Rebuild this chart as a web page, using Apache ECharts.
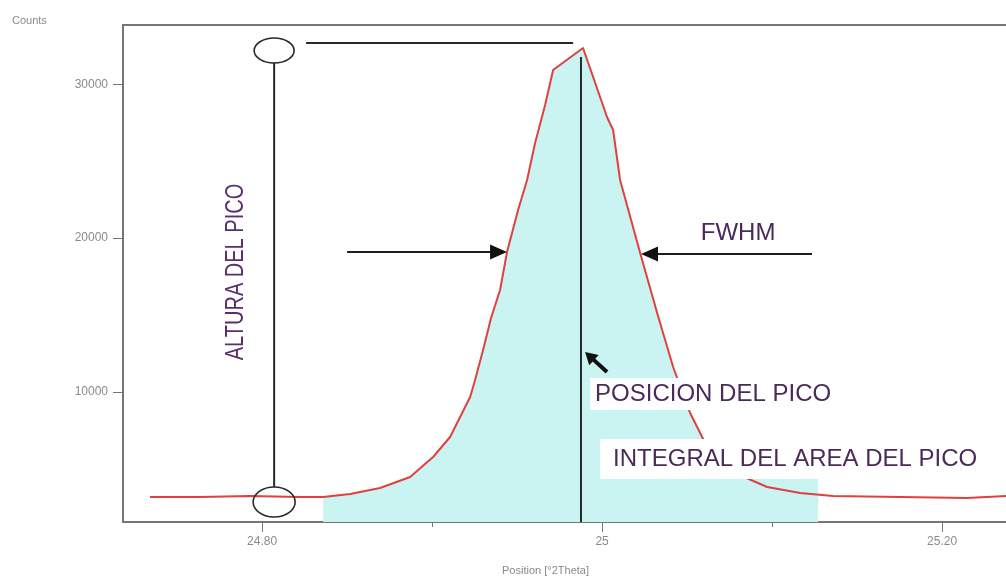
<!DOCTYPE html>
<html>
<head>
<meta charset="utf-8">
<title>Peak</title>
<script src="https://cdn.jsdelivr.net/npm/echarts@6.0.0/dist/echarts.min.js"></script>
<style>
html,body{margin:0;padding:0;background:#fff;}
#chart{width:1006px;height:576px;}
</style>
</head>
<body>
<div id="chart"></div>
<script>
// ---------------- data ----------------
const positions = [24.7341, 24.7635, 24.7929, 24.8224, 24.8359, 24.8518, 24.8694, 24.8871, 24.9006, 24.9106,
  24.9165, 24.9224, 24.9253, 24.9300, 24.9347, 24.9400, 24.9441, 24.9506, 24.9559, 24.9606, 24.9665, 24.9712,
  24.9888, 25.0029, 25.0065, 25.0106, 25.0224, 25.0324, 25.0418, 25.0518, 25.0618, 25.0782, 25.0971,
  25.1165, 25.1359, 25.1753, 25.2147, 25.2376];
const counts = [3175, 3175, 3240, 3175, 3175, 3370, 3760, 4475, 5774, 7074,
  8374, 9674, 10779, 12728, 14808, 16628, 19097, 21827, 23777, 26182, 28651, 30926,
  32356, 27871, 27026, 23777, 19033, 15133, 11623, 8634, 6424, 4735, 3825,
  3435, 3240, 3175, 3110, 3240];
// shaded integral region (as drawn in the figure)
const areaPositions = [24.8359, 24.8518, 24.8694, 24.8871, 24.9006, 24.9106, 24.9165, 24.9224, 24.9253, 24.9300,
  24.9347, 24.9400, 24.9441, 24.9506, 24.9559, 24.9606, 24.9665, 24.9712, 24.9888, 25.0029, 25.0065, 25.0106,
  25.0224, 25.0324, 25.0418, 25.0518, 25.0618, 25.0782, 25.1271];
const areaCounts = [3175, 3370, 3760, 4475, 5774, 7074, 8374, 9674, 10779, 12728,
  14808, 16628, 19097, 21827, 23777, 26182, 28651, 30926, 32356, 27871, 27026, 23777,
  19033, 15133, 11623, 8634, 6424, 4800, 4800];

const xRange = [24.7182, 25.2376];
const yRange = [1550, 33850];
const yTickValues = [10000, 20000, 30000];
const yTickLabels = ['10000', '20000', '30000'];
const xTickValues = [24.8, 25.0, 25.2];
const xTickLabels = ['24.80', '25', '25.20'];
const xMinorTickValues = [24.9, 25.1];
const yAxisTitle = 'Counts';
const xAxisTitle = 'Position [°2Theta]';

// annotations (data units)
const peakPosition = 24.9876;
const peakLineTop = 31770;
const peakTopLine = [24.8259, 24.9830];
const peakTopLevel = 32680;
const heightMarkerX = 24.8071;
const heightMarkerTop = 32190;
const heightMarkerBottom = 2850;
const fwhmLeftArrow = [24.8500, 24.9441, 19097];
const fwhmRightArrow = [25.1235, 25.0229, 18967];
const posArrow = [25.0029, 11299, 24.9900, 12598];
const labelTexts = ['ALTURA DEL PICO', 'FWHM', 'POSICION DEL PICO', 'INTEGRAL DEL AREA DEL PICO'];
const labelPositions = [[24.7847, 17798], [25.0800, 20332], [24.9959, 9869], [25.0065, 5644]];

// ---------------- chart ----------------
const axisGrey = '#767676';
const labelGrey = '#8a8a8a';
const fontFam = 'Arial, "Liberation Sans", sans-serif';
const textPurple = '#4a2a58';

const chart = echarts.init(document.getElementById('chart'), null, {renderer: 'canvas'});

function pick(values, labels) {
  return function (v) {
    for (let i = 0; i < values.length; i++) {
      if (Math.abs(v - values[i]) < 1e-6) return labels[i];
    }
    return '';
  };
}

chart.setOption({
  animation: false,
  backgroundColor: '#fff',
  title: {
    text: yAxisTitle, left: 7, top: 10,
    textStyle: {fontSize: 11, fontWeight: 'normal', color: labelGrey, fontFamily: fontFam}
  },
  grid: {left: 123, right: 0, top: 25, bottom: 54, containLabel: false, outerBoundsMode: 'none'},
  xAxis: [
    {
      type: 'value', min: xRange[0], max: xRange[1], position: 'bottom',
      axisLine: {show: true, onZero: false, lineStyle: {color: axisGrey, width: 2}},
      axisTick: {show: true, customValues: xTickValues, length: 10, lineStyle: {color: axisGrey, width: 1}},
      axisLabel: {customValues: xTickValues, formatter: pick(xTickValues, xTickLabels), margin: 14, color: labelGrey, fontSize: 12, fontFamily: fontFam},
      splitLine: {show: false},
      name: xAxisTitle, nameLocation: 'middle', nameGap: 43,
      nameTextStyle: {color: labelGrey, fontSize: 11, fontFamily: fontFam, padding: [0, 38, 0, 0]}
    },
    {
      type: 'value', min: xRange[0], max: xRange[1], position: 'bottom',
      axisLine: {show: false, onZero: false},
      axisTick: {show: true, customValues: xMinorTickValues, length: 5, lineStyle: {color: axisGrey, width: 1}},
      axisLabel: {show: false},
      splitLine: {show: false}
    },
    {
      type: 'value', min: xRange[0], max: xRange[1], position: 'top',
      axisLine: {show: true, onZero: false, lineStyle: {color: axisGrey, width: 2}},
      axisTick: {show: false}, axisLabel: {show: false}, splitLine: {show: false}
    }
  ],
  yAxis: {
    type: 'value', min: yRange[0], max: yRange[1],
    axisLine: {show: true, onZero: false, lineStyle: {color: axisGrey, width: 2}},
    axisTick: {show: true, customValues: yTickValues, length: 10, lineStyle: {color: axisGrey, width: 1}},
    axisLabel: {customValues: yTickValues, formatter: pick(yTickValues, yTickLabels), margin: 15, color: labelGrey, fontSize: 12, fontFamily: fontFam},
    splitLine: {show: false}
  },
  series: [
    {
      name: 'area', type: 'line', xAxisIndex: 0, yAxisIndex: 0,
      data: areaPositions.map((x, i) => [x, areaCounts[i]]),
      showSymbol: false, symbol: 'none',
      lineStyle: {width: 0, opacity: 0},
      areaStyle: {color: '#c9f4f1', opacity: 1, origin: 'start'},
      z: 1, silent: true
    },
    {
      name: 'counts', type: 'line', xAxisIndex: 0, yAxisIndex: 0,
      data: positions.map((x, i) => [x, counts[i]]),
      showSymbol: false, symbol: 'none',
      lineStyle: {color: '#e0403f', width: 2, join: 'round'},
      z: 3, silent: true
    }
  ]
});

function P(x, y) { return chart.convertToPixel({xAxisIndex: 0, yAxisIndex: 0}, [x, y]); }
function head(tip, from, len, half) {
  const dx = tip[0] - from[0], dy = tip[1] - from[1];
  const d = Math.hypot(dx, dy), ux = dx / d, uy = dy / d;
  const bx = tip[0] - ux * len, by = tip[1] - uy * len;
  return [[tip[0], tip[1]], [bx - uy * half, by + ux * half], [bx + uy * half, by - ux * half]];
}
function line(a, b, color, w) {
  return {type: 'line', shape: {x1: a[0], y1: a[1], x2: b[0], y2: b[1]}, style: {stroke: color, lineWidth: w}, z: 10};
}

const dark = '#262a2c';
const g = [];
// peak position line
g.push(line(P(peakPosition, peakLineTop), P(peakPosition, yRange[0]), dark, 2));
// peak height level line
g.push(line(P(peakTopLine[0], peakTopLevel), P(peakTopLine[1], peakTopLevel), dark, 2));
// height marker
const eTop = P(heightMarkerX, heightMarkerTop), eBot = P(heightMarkerX, heightMarkerBottom);
g.push(line([eTop[0], eTop[1] + 12.5], [eBot[0], eBot[1] - 15], dark, 2));
g.push({type: 'ellipse', shape: {cx: eTop[0], cy: eTop[1], rx: 20, ry: 12.5}, style: {fill: 'none', stroke: dark, lineWidth: 1.6}, z: 10});
g.push({type: 'ellipse', shape: {cx: eBot[0], cy: eBot[1], rx: 21, ry: 15}, style: {fill: 'none', stroke: dark, lineWidth: 1.6}, z: 10});
// FWHM arrows
[fwhmLeftArrow, fwhmRightArrow].forEach(a => {
  const s = P(a[0], a[2]), t = P(a[1], a[2]);
  g.push(line(s, [t[0] + (s[0] > t[0] ? 12 : -12), t[1]], '#1e1e1e', 2));
  g.push({type: 'polygon', shape: {points: head(t, s, 17, 7.5)}, style: {fill: '#111'}, z: 11});
});
// position arrow
const ps = P(posArrow[0], posArrow[1]), pt = P(posArrow[2], posArrow[3]);
{
  const dx = pt[0] - ps[0], dy = pt[1] - ps[1], d = Math.hypot(dx, dy);
  g.push(line(ps, [pt[0] - dx / d * 8, pt[1] - dy / d * 8], '#111', 4));
  g.push({type: 'polygon', shape: {points: head(pt, ps, 12, 7)}, style: {fill: '#111'}, z: 11});
}
// labels
const lp = labelPositions.map(p => P(p[0], p[1]));
g.push({type: 'text', x: lp[0][0], y: lp[0][1], rotation: Math.PI / 2, scaleX: 0.77,
  style: {text: labelTexts[0], font: '26px ' + fontFam, fill: '#5a2f6a', align: 'center', verticalAlign: 'middle'}, z: 12});
g.push({type: 'text', x: lp[1][0], y: lp[1][1],
  style: {text: labelTexts[1], font: '24px ' + fontFam, fill: textPurple, align: 'center', verticalAlign: 'middle'}, z: 12});
g.push({type: 'text', x: lp[2][0] - 5, y: lp[2][1],
  style: {text: labelTexts[2], font: '24px ' + fontFam, fill: textPurple, align: 'left', verticalAlign: 'middle',
    backgroundColor: '#fff', padding: [4, 4, 4, 5]}, z: 12});
g.push({type: 'text', x: lp[3][0] - 13, y: lp[3][1],
  style: {text: labelTexts[3], font: '24px ' + fontFam, fill: textPurple, align: 'left', verticalAlign: 'middle',
    backgroundColor: '#fff', padding: [8, 8, 8, 13]}, z: 12});

chart.setOption({graphic: g});
</script>
</body>
</html>
